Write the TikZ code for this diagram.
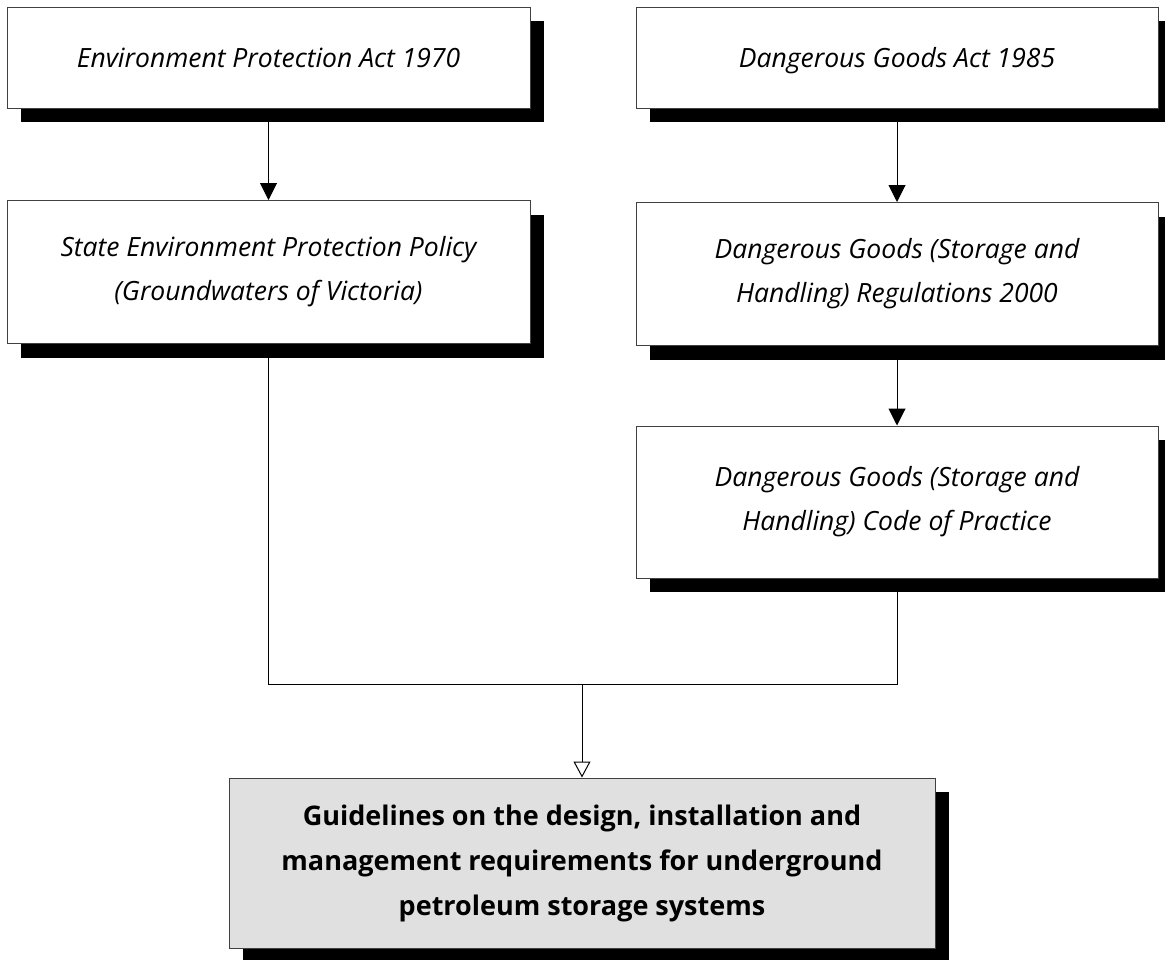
\documentclass[tikz,border=0pt]{standalone}
\usepackage{fontspec}
\setmainfont{Open Sans}
\usetikzlibrary{arrows.meta,shadows}
\begin{document}
\begin{tikzpicture}[x=1pt,y=-1pt,
  box/.style={draw=black!75, line width=1pt, fill=white, inner sep=0pt, align=center,
    font=\fontsize{26.5}{44}\selectfont\itshape,
    drop shadow={shadow xshift=14pt, shadow yshift=-14pt, fill=black, opacity=1}},
  mainbox/.style={box, fill=black!12, font=\fontsize{27}{45}\selectfont\bfseries},
  conn/.style={draw=black, line width=1pt},
  solidarrow/.style={conn, -{Triangle[length=17pt,width=17pt]}},
  openarrow/.style={conn, -{Triangle[open,length=16pt,width=17pt,fill=white]}}
]
\useasboundingbox (0,0) rectangle (1165,959);
\node[box, minimum width=523pt, minimum height=101pt] (b1) at (268.5,57.5) {Environment Protection Act 1970};
\node[box, minimum width=522pt, minimum height=101pt, text depth=0pt] (b2) at (897,57.5) {Dangerous Goods Act 1985};
\node[box, minimum width=523pt, minimum height=143pt] (b3) at (268.5,272) {State Environment Protection Policy\\(Groundwaters of Victoria)};
\node[box, minimum width=522pt, minimum height=143pt] (b4) at (897,274) {Dangerous Goods (Storage and\\Handling) Regulations 2000};
\node[box, minimum width=522pt, minimum height=152pt] (b5) at (897,502) {Dangerous Goods (Storage and\\Handling) Code of Practice};
\node[mainbox, minimum width=706pt, minimum height=170pt] (b6) at (582,863) {Guidelines on the design, installation and\\management requirements for underground\\petroleum storage systems};
\coordinate (jl) at (b3.south |- 0,684);
\coordinate (jr) at (b5.south |- 0,684);
\coordinate (jm) at (b6.north |- 0,684);
\draw[solidarrow] (b1.south) -- (b3.north);
\draw[solidarrow] (b2.south) -- (b4.north);
\draw[solidarrow] (b4.south) -- (b5.north);
\draw[conn] (b3.south) -- (jl) -- (jr) -- (b5.south);
\draw[openarrow] (jm) -- (b6.north);
\end{tikzpicture}
\end{document}
